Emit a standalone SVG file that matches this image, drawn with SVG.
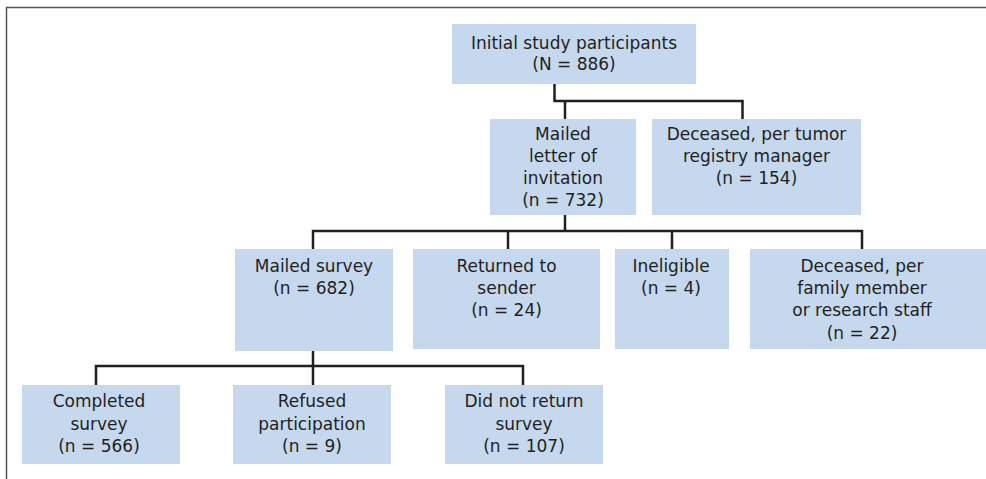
<svg xmlns="http://www.w3.org/2000/svg" width="986" height="479" viewBox="0 0 986 479">
<style>
.box{fill:#c5d8ee}
.t{font-family:"DejaVu Sans","Liberation Sans",sans-serif;font-size:17px;fill:#231f20;text-anchor:middle}
.c{fill:none;stroke:#231f20;stroke-width:2.5;stroke-linejoin:miter}
.frame{fill:none;stroke:#555;stroke-width:1.5}
</style>
<rect width="986" height="479" fill="#fff"/>
<path class="frame" d="M6.5 479 V7.5 H986"/>
<g id="connectors">
<path class="c" d="M554.5 84 V101 H742.5 V119"/>
<path class="c" d="M565 101 V119"/>
<path class="c" d="M565 215 V231"/>
<path class="c" d="M313 249 V231 H862 V249"/>
<path class="c" d="M508 231 V249"/>
<path class="c" d="M672 231 V249"/>
<path class="c" d="M313 351 V366"/>
<path class="c" d="M96 385 V366 H523 V385"/>
<path class="c" d="M313 366 V385"/>
</g>
<g id="initial">
<rect class="box" x="452" y="24" width="244" height="60"/>
<text class="t" x="574" y="48.5">Initial study participants</text>
<text class="t" x="574" y="70">(N = 886)</text>
</g>
<g id="mailed-letter">
<rect class="box" x="490" y="119" width="146" height="96"/>
<text class="t" x="563" y="139.5">Mailed</text>
<text class="t" x="563" y="161.5">letter of</text>
<text class="t" x="563" y="184">invitation</text>
<text class="t" x="563" y="206">(n = 732)</text>
</g>
<g id="deceased-registry">
<rect class="box" x="652" y="119" width="209" height="96"/>
<text class="t" x="756.5" y="139.5">Deceased, per tumor</text>
<text class="t" x="756.5" y="161.5">registry manager</text>
<text class="t" x="756.5" y="184">(n = 154)</text>
</g>
<g id="mailed-survey">
<rect class="box" x="235" y="249" width="158" height="102"/>
<text class="t" x="314" y="271.5">Mailed survey</text>
<text class="t" x="314" y="293.5">(n = 682)</text>
</g>
<g id="returned">
<rect class="box" x="413" y="249" width="187" height="100"/>
<text class="t" x="506.5" y="271.5">Returned to</text>
<text class="t" x="506.5" y="293.5">sender</text>
<text class="t" x="506.5" y="316">(n = 24)</text>
</g>
<g id="ineligible">
<rect class="box" x="615" y="249" width="114" height="100"/>
<text class="t" x="671" y="271.5">Ineligible</text>
<text class="t" x="671" y="293.5">(n = 4)</text>
</g>
<g id="deceased-family">
<rect class="box" x="750" y="249" width="236" height="100"/>
<text class="t" x="862" y="271.5">Deceased, per</text>
<text class="t" x="862" y="293.5">family member</text>
<text class="t" x="862" y="316">or research staff</text>
<text class="t" x="862" y="339">(n = 22)</text>
</g>
<g id="completed">
<rect class="box" x="22" y="385" width="158" height="79"/>
<text class="t" x="99" y="407">Completed</text>
<text class="t" x="99" y="429.5">survey</text>
<text class="t" x="99" y="452">(n = 566)</text>
</g>
<g id="refused">
<rect class="box" x="233" y="385" width="158" height="79"/>
<text class="t" x="312" y="407">Refused</text>
<text class="t" x="312" y="429.5">participation</text>
<text class="t" x="312" y="452">(n = 9)</text>
</g>
<g id="not-returned">
<rect class="box" x="445" y="385" width="158" height="79"/>
<text class="t" x="524" y="407">Did not return</text>
<text class="t" x="524" y="429.5">survey</text>
<text class="t" x="524" y="452">(n = 107)</text>
</g>
</svg>
